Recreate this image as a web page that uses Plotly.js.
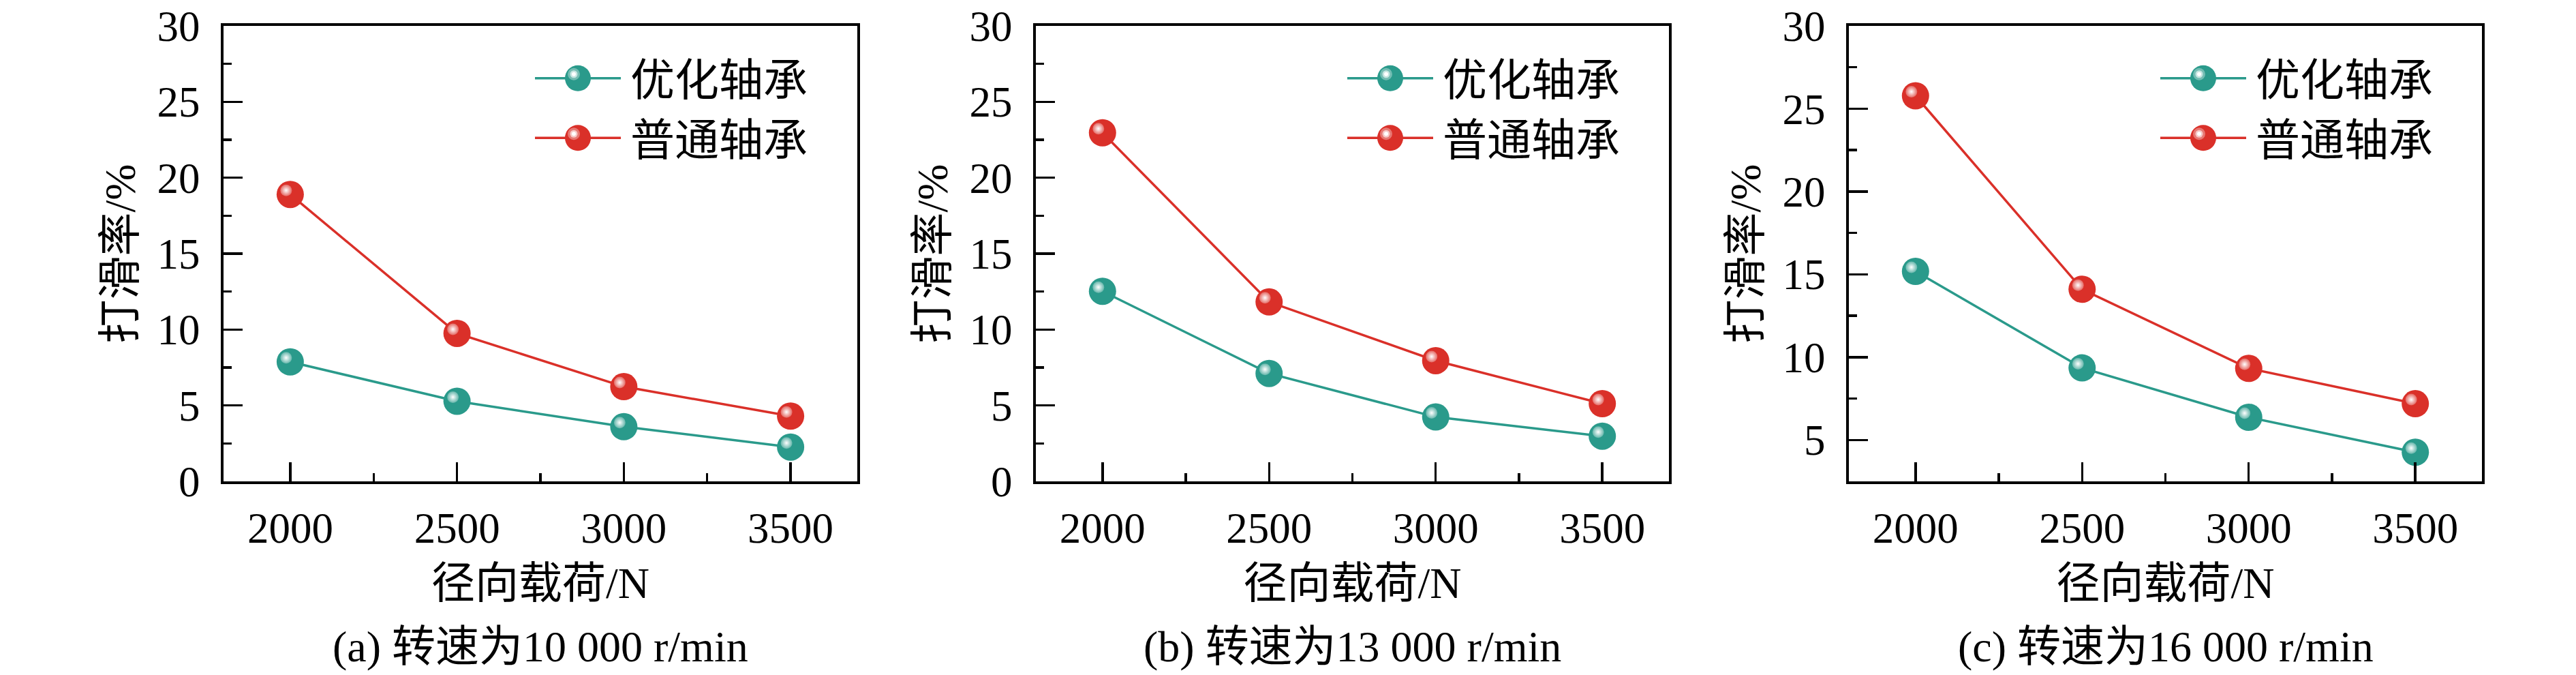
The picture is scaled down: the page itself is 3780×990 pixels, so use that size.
<!DOCTYPE html>
<html><head><meta charset="utf-8">
<script src="https://cdn.plot.ly/plotly-3.0.1.min.js"></script>
<style>html,body{margin:0;padding:0;background:#fff}#chart{width:3780px;height:990px}</style>
</head><body><div id="chart"></div>
<script>
// ---- data ----
const loads = [2000, 2500, 3000, 3500];
const optA = [7.87, 5.28, 3.60, 2.26];
const regA = [18.90, 9.75, 6.24, 4.30];
const optB = [12.52, 7.11, 4.24, 2.98];
const regB = [22.96, 11.82, 7.95, 5.12];
const optC = [15.18, 9.35, 6.37, 4.26];
const regC = [25.78, 14.10, 9.32, 7.19];
const seriesNames = ['优化轴承', '普通轴承'];
const captions = ['(a) 转速为10 000 r/min', '(b) 转速为13 000 r/min', '(c) 转速为16 000 r/min'];
const xTitle = '径向载荷/N';
const yTitle = '打滑率/%';
const xTickVals = [2000, 2500, 3000, 3500];
const xTickText = ['2000', '2500', '3000', '3500'];
const yTickVals = [[0, 5, 10, 15, 20, 25, 30], [0, 5, 10, 15, 20, 25, 30], [5, 10, 15, 20, 25, 30]];

// ---- style ----
const W = 3780, H = 990;
const FONT = "'Liberation Serif', 'Times New Roman', 'Noto Sans CJK SC', serif";
const TEAL = '#2a9a8b';
const RED = '#da3029';
const panelsPx = [[328, 1258], [1520, 2449], [2713, 3642]];
const plotTop = 38, plotBot = 706;
const yRanges = [[0, 30], [0, 30], [2.5, 30]];
const xRange = [1800, 3700];
const HL_DX = -6, HL_DY = 6;

const panels = [[optA, regA], [optB, regB], [optC, regC]];
const traces = [];
const layout = {
  width: W, height: H, margin: {l: 0, r: 0, t: 0, b: 0},
  paper_bgcolor: '#fff', plot_bgcolor: 'rgba(0,0,0,0)',
  font: {family: FONT, size: 63, color: '#000'},
  showlegend: true, annotations: []
};
const yd = [(H - plotBot) / H, (H - plotTop) / H];

panels.forEach((p, i) => {
  const n = i + 1;
  const xs = n === 1 ? '' : String(n);
  const xk = 'xaxis' + xs, yk = 'yaxis' + xs;
  const dom = [panelsPx[i][0] / W, panelsPx[i][1] / W];
  layout[xk] = {
    domain: dom, anchor: 'y' + xs, range: xRange, tickmode: 'array', tickvals: xTickVals, ticktext: xTickText,
    showline: true, linewidth: 4, linecolor: '#000', mirror: true,
    ticks: 'inside', ticklen: 28, tickwidth: 3.5, tickcolor: '#000',
    minor: {ticks: 'inside', ticklen: 12, tickwidth: 3.5, tickcolor: '#000', dtick: 250, tick0: 2000, showgrid: false},
    showgrid: false, zeroline: false, ticklabelstandoff: 10, ticklabeloverflow: 'allow',
    tickfont: {family: FONT, size: 63},
    title: {text: xTitle, font: {family: FONT, size: 64}, standoff: 25}
  };
  layout[yk] = {
    domain: yd, anchor: 'x' + xs, range: yRanges[i], tickmode: 'array', tickvals: yTickVals[i],
    ticktext: yTickVals[i].map(String),
    showline: true, linewidth: 4, linecolor: '#000', mirror: true,
    ticks: 'inside', ticklen: 28, tickwidth: 3.5, tickcolor: '#000',
    minor: {ticks: 'inside', ticklen: 12, tickwidth: 3.5, tickcolor: '#000', dtick: 2.5, tick0: 0, showgrid: false},
    showgrid: false, zeroline: false, ticklabelstandoff: 18, ticklabeloverflow: 'allow',
    tickfont: {family: FONT, size: 63},
    title: {text: yTitle, font: {family: FONT, size: 64}, standoff: 12}
  };
  // highlight overlay axes (shifted a few px up-left)
  const hx = 'xaxis' + (n + 3), hy = 'yaxis' + (n + 3);
  layout[hx] = {domain: [(panelsPx[i][0] + HL_DX) / W, (panelsPx[i][1] + HL_DX) / W], anchor: 'y' + (n + 3), range: xRange, visible: false, showgrid: false, zeroline: false};
  layout[hy] = {domain: [(H - plotBot + HL_DY) / H, (H - plotTop + HL_DY) / H], anchor: 'x' + (n + 3), range: yRanges[i], visible: false, showgrid: false, zeroline: false};

  const legKey = n === 1 ? 'legend' : 'legend' + n;
  layout[legKey] = {
    x: (panelsPx[i][0] + 452) / W, xanchor: 'left', y: (H - 66) / H, yanchor: 'top',
    bgcolor: 'rgba(0,0,0,0)', borderwidth: 0, itemwidth: 135, tracegroupgap: 0,
    font: {family: FONT, size: 65, color: '#000'}, itemclick: false, itemdoubleclick: false
  };
  [TEAL, RED].forEach((c, j) => {
    traces.push({
      type: 'scatter', mode: 'lines+markers', x: loads, y: p[j], name: seriesNames[j],
      xaxis: 'x' + xs, yaxis: 'y' + xs, legend: legKey,
      line: {color: c, width: 3.5},
      marker: {size: 40, color: c, line: {width: 0}},
      hoverinfo: 'skip'
    });
  });
  [TEAL, RED].forEach((c, j) => {
    traces.push({
      type: 'scatter', mode: 'markers', x: loads, y: p[j], showlegend: false,
      xaxis: 'x' + (n + 3), yaxis: 'y' + (n + 3),
      marker: {size: 17, color: 'rgba(255,255,255,0.28)', line: {width: 0}, gradient: {type: 'radial', color: 'rgba(255,255,255,1)'}},
      hoverinfo: 'skip'
    });
  });
  layout.annotations.push({
    xref: 'paper', yref: 'paper', x: (panelsPx[i][0] + panelsPx[i][1]) / 2 / W, y: (H - 948) / H,
    xanchor: 'center', yanchor: 'middle', showarrow: false, text: captions[i],
    font: {family: FONT, size: 64, color: '#000'}
  });
});

Plotly.newPlot('chart', traces, layout, {staticPlot: true}).then(gd => {
  const LW = 126, R = 19;
  const ns = 'http://www.w3.org/2000/svg';
  gd.querySelectorAll('.infolayer g.traces').forEach(tr => {
    const line = tr.querySelector('path.js-line');
    if (line) line.setAttribute('d', 'M5,0h' + LW);
    const pt = tr.querySelector('path.scatterpts');
    if (pt) {
      const cx = 5 + LW / 2;
      pt.setAttribute('d', 'M' + R + ',0A' + R + ',' + R + ' 0 1,1 0,-' + R + 'A' + R + ',' + R + ' 0 0,1 ' + R + ',0Z');
      pt.setAttribute('transform', 'translate(' + cx + ',0)');
      const g = pt.parentNode;
      [[9, 'rgba(255,255,255,0.35)'], [5.5, 'rgba(255,255,255,0.6)'], [3, '#fff']].forEach(([r, f]) => {
        const c = document.createElementNS(ns, 'circle');
        c.setAttribute('cx', cx - 6); c.setAttribute('cy', -6); c.setAttribute('r', r);
        c.setAttribute('fill', f);
        g.appendChild(c);
      });
    }
  });
});
</script></body></html>
